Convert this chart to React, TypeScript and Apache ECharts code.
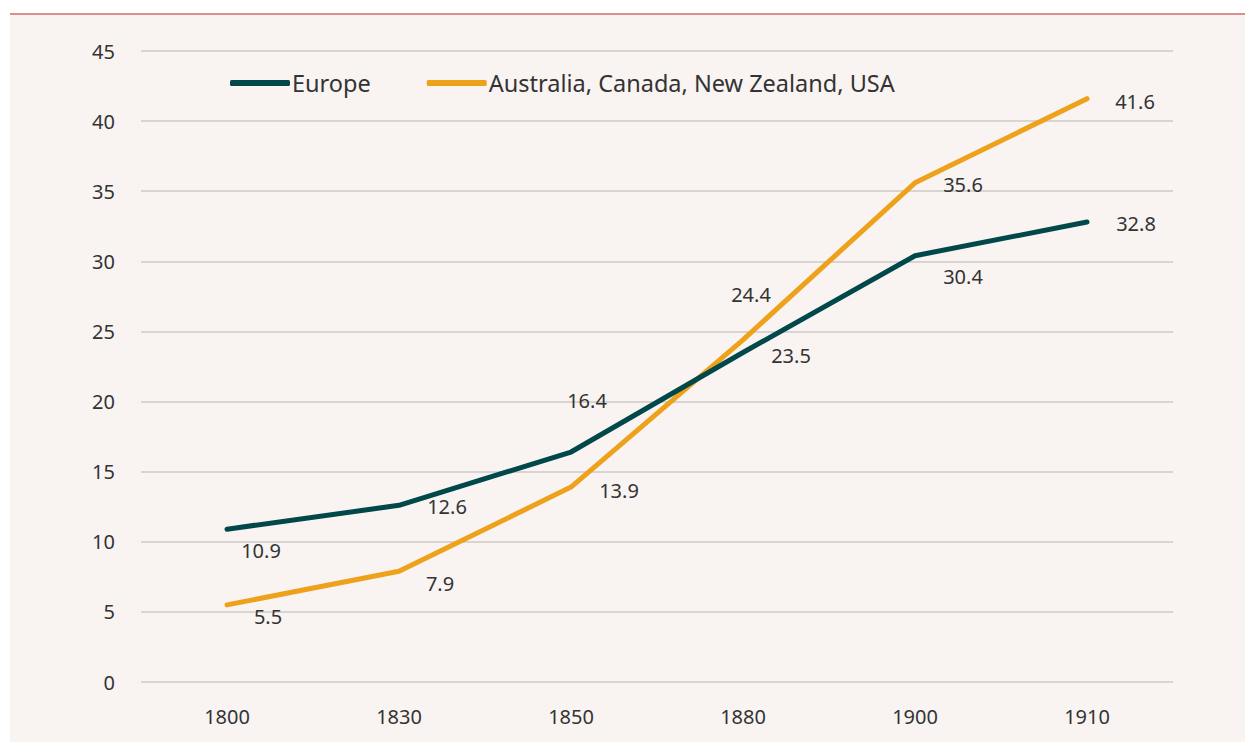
import React, { useEffect, useRef } from "react";
import * as echarts from "echarts";

const years = ["1800", "1830", "1850", "1880", "1900", "1910"];
const europe = [10.9, 12.6, 16.4, 23.5, 30.4, 32.8];
const anglo = [5.5, 7.9, 13.9, 24.4, 35.6, 41.6];
const seriesNames = ["Europe", "Australia, Canada, New Zealand, USA"];

// label offsets (px) relative to each point
const europeLabelOffsets = [[34, 21], [48, 1], [16, -52], [48, 3], [48, 21], [49, 1]];
const angloLabelOffsets = [[41, 12], [41, 12], [48, 3], [8, -45], [48, 2], [48, 3]];

const FONT = "'Noto Sans', sans-serif";
const TEXT = "#333333";

function buildData(values: number[], offsets: number[][]) {
  return values.map((v, i) => ({
    value: v,
    label: { offset: offsets[i] },
  }));
}

export default function App() {
  const ref = useRef<HTMLDivElement>(null);
  useEffect(() => {
    if (!ref.current) return;
    const chart = echarts.init(ref.current, null, { renderer: "svg" });
    const labelCommon = {
      show: true,
      position: "inside",
      align: "center",
      verticalAlign: "middle",
      fontFamily: FONT,
      fontSize: 20,
      color: TEXT,
      formatter: (p: any) => String(p.value),
    };
    chart.setOption({
      animation: false,
      backgroundColor: "transparent",
      graphic: [
        {
          type: "rect",
          silent: true,
          z: -10,
          shape: { x: 10, y: 14, width: 1235, height: 728 },
          style: { fill: "#f9f4f2" },
        },
        {
          type: "line",
          silent: true,
          z: -9,
          shape: { x1: 10, y1: 14, x2: 1245, y2: 14 },
          style: { stroke: "#d46a6a", lineWidth: 1.5 },
        },
      ],
      grid: { left: 141, right: 72, top: 51, bottom: 60, containLabel: false },
      legend: {
        left: 225,
        top: 66,
        icon: "roundRect",
        itemWidth: 60,
        itemHeight: 6,
        itemGap: 56,
        data: seriesNames,
        textStyle: { fontFamily: FONT, fontSize: 23.5, color: TEXT, padding: [0, 0, 0, -3] },
      },
      xAxis: {
        type: "category",
        data: years,
        boundaryGap: true,
        axisLine: { show: false },
        axisTick: { show: false },
        axisLabel: { fontFamily: FONT, fontSize: 20, color: TEXT, margin: 24 },
      },
      yAxis: {
        type: "value",
        min: 0,
        max: 45,
        interval: 5,
        axisLine: { show: false },
        axisTick: { show: false },
        splitLine: { lineStyle: { color: "#d9d3d1", width: 2 } },
        axisLabel: { fontFamily: FONT, fontSize: 20, color: TEXT, margin: 26 },
      },
      series: [
        {
          name: seriesNames[0],
          type: "line",
          data: buildData(europe, europeLabelOffsets),
          symbol: "circle",
          symbolSize: 1,
          itemStyle: { color: "#00484a" },
          lineStyle: { color: "#00484a", width: 5, cap: "round", join: "round" },
          label: labelCommon,
          z: 3,
        },
        {
          name: seriesNames[1],
          type: "line",
          data: buildData(anglo, angloLabelOffsets),
          symbol: "circle",
          symbolSize: 1,
          itemStyle: { color: "#eea11a" },
          lineStyle: { color: "#eea11a", width: 5, cap: "round", join: "round" },
          label: labelCommon,
          z: 2,
        },
      ],
    });
    return () => chart.dispose();
  }, []);
  return (
    <div
      ref={ref}
      style={{ position: "absolute", left: 0, top: 0, width: 1245, height: 742, background: "#ffffff" }}
    />
  );
}
